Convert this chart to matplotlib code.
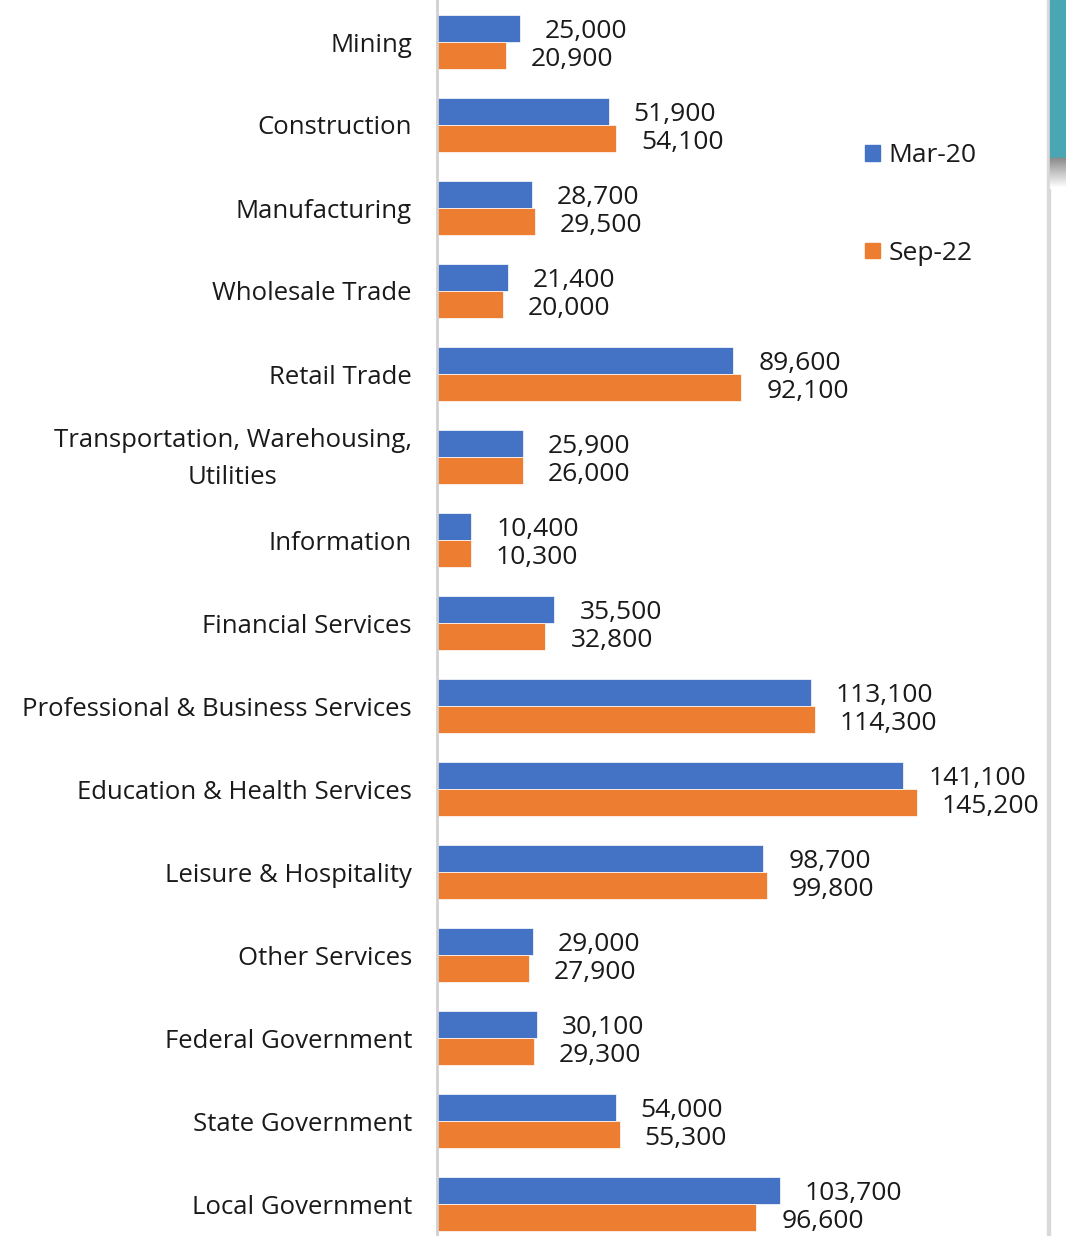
import matplotlib
matplotlib.use("Agg")
import matplotlib.pyplot as plt
import matplotlib.patches as mpatches
import numpy as np

categories = ["Mining", "Construction", "Manufacturing", "Wholesale Trade", "Retail Trade",
              "Transportation, Warehousing,\nUtilities", "Information", "Financial Services",
              "Professional & Business Services", "Education & Health Services",
              "Leisure & Hospitality", "Other Services", "Federal Government",
              "State Government", "Local Government"]
mar20 = [25000, 51900, 28700, 21400, 89600, 25900, 10400, 35500, 113100, 141100,
         98700, 29000, 30100, 54000, 103700]
sep22 = [20900, 54100, 29500, 20000, 92100, 26000, 10300, 32800, 114300, 145200,
         99800, 27900, 29300, 55300, 96600]
series_names = ["Mar-20", "Sep-22"]

BLUE = "#4472C4"
ORANGE = "#ED7D31"
TXT = "#1a1a1a"
FONT = "Open Sans"

W, H = 1066, 1236
fig = plt.figure(figsize=(W / 100, H / 100), dpi=100)
left_px = 437
xmax = 160000
px_per_unit = 480 / 145200
right_px = left_px + xmax * px_per_unit
ax = fig.add_axes([left_px / W, 0, (right_px - left_px) / W, 1])

y = np.arange(len(categories))
bh = 0.325
ax.barh(y - bh / 2, mar20, height=bh, color=BLUE, edgecolor="white", linewidth=0.5, label=series_names[0])
ax.barh(y + bh / 2, sep22, height=bh, color=ORANGE, edgecolor="white", linewidth=0.5, label=series_names[1])

ax.set_xlim(0, xmax)
ax.set_ylim((H - 42) / 83, -42 / 83)
ax.set_yticks(y)
single = [c if "\n" not in c else "" for c in categories]
ax.set_yticklabels(single, fontsize=18.5, family=FONT, color=TXT)
ax.tick_params(axis="y", length=0, pad=18)
# multi-line category labels drawn as centred blocks aligned to the tick-label edge
for yi, c in zip(y, categories):
    if "\n" in c:
        ax.annotate(c, xy=(0, yi), xycoords=("axes fraction", "data"),
                    xytext=(-18, -1.5), textcoords="offset points",
                    ha="right", va="center", multialignment="center", linespacing=1.67,
                    fontsize=18.5, family=FONT, color=TXT, annotation_clip=False)
ax.set_xticks([])
for s in ["top", "right", "bottom"]:
    ax.spines[s].set_visible(False)
ax.spines["left"].set_color("#d0d0d0")
ax.spines["left"].set_linewidth(2)

off = 25 / px_per_unit
for yi, v in zip(y, mar20):
    ax.text(v + off, yi - bh / 2 + 0.035, f"{v:,}", va="center", ha="left",
            fontsize=19, family=FONT, color=TXT, clip_on=False)
for yi, v in zip(y, sep22):
    ax.text(v + off, yi + bh / 2 + 0.045, f"{v:,}", va="center", ha="left",
            fontsize=19, family=FONT, color=TXT, clip_on=False)

handles = [mpatches.Patch(color=BLUE, label=series_names[0]),
           mpatches.Patch(color=ORANGE, label=series_names[1])]
leg = fig.legend(handles=handles, loc="upper left", bbox_to_anchor=(865 / W, 1 - 143 / H),
                 frameon=False, labelspacing=2.76, handlelength=0.55,
                 handleheight=0.55, handletextpad=0.35, borderaxespad=0, borderpad=0,
                 prop={"family": FONT, "size": 19})
for t in leg.get_texts():
    t.set_color(TXT)

# decorative frame elements at right edge
fig.add_artist(mpatches.Rectangle((1047 / W, 0), 3 / W, 1, transform=fig.transFigure,
                                  color="#d9d9d9", zorder=0))
fig.add_artist(mpatches.Rectangle((1050 / W, 1 - 158 / H), 16 / W, 158 / H,
                                  transform=fig.transFigure, color="#4BA6B4", zorder=0))
for i in range(30):
    g = 0.55 + 0.45 * i / 29
    fig.add_artist(mpatches.Rectangle((1050 / W, 1 - (158 + i + 1) / H), 16 / W, 1 / H,
                                      transform=fig.transFigure, color=(g, g, g), zorder=0))

fig.savefig("out.png", dpi=100)
